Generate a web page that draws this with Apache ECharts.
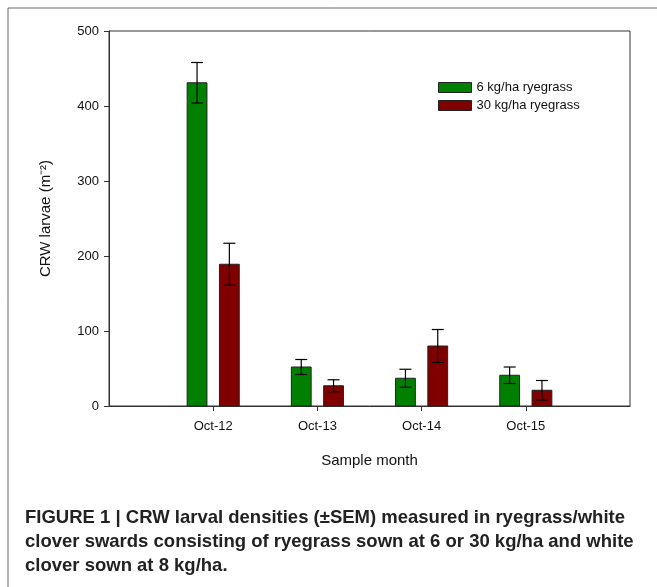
<!DOCTYPE html>
<html><head><meta charset="utf-8">
<script src="https://cdn.jsdelivr.net/npm/echarts@6/dist/echarts.min.js"></script>
<style>html,body{margin:0;padding:0;background:#fff}#chart{width:657px;height:587px}</style>
</head><body><div id="chart"></div>
<script>
// data
var months = ['Oct-12', 'Oct-13', 'Oct-14', 'Oct-15'];
var low = [431, 52, 37, 41];      // 6 kg/ha ryegrass
var lowErr = [27, 10, 12, 11];
var high = [189, 27, 80, 21];     // 30 kg/ha ryegrass
var highErr = [28, 8, 22, 13];
var yTicks = [0, 100, 200, 300, 400, 500];

var mychart = echarts.init(document.getElementById('chart'));

function barSeries(name, vals, errs, offset, color) {
    var data = vals.map(function (v, i) { return [i + 1, v, errs[i]]; });
    return {
        name: name,
        type: 'custom',
        itemStyle: { color: color },
        data: data,
        renderItem: function (params, api) {
            var x = api.value(0) + offset, v = api.value(1), e = api.value(2);
            var p0 = api.coord([x - 0.095, 0]);
            var p1 = api.coord([x + 0.095, v]);
            var c = api.coord([x, v]);
            var top = api.coord([x, v + e]);
            var bot = api.coord([x, v - e]);
            var cap = 6;
            var ls = { stroke: '#000', lineWidth: 1.2 };
            return {
                type: 'group',
                children: [
                    { type: 'rect', shape: { x: p0[0], y: p1[1], width: p1[0] - p0[0], height: p0[1] - p1[1] },
                      style: { fill: color, stroke: '#222', lineWidth: 1 } },
                    { type: 'line', shape: { x1: c[0], y1: top[1], x2: c[0], y2: bot[1] }, style: ls },
                    { type: 'line', shape: { x1: c[0] - cap, y1: top[1], x2: c[0] + cap, y2: top[1] }, style: ls },
                    { type: 'line', shape: { x1: c[0] - cap, y1: bot[1], x2: c[0] + cap, y2: bot[1] }, style: ls }
                ]
            };
        }
    };
}

var option = {
    animation: false,
    grid: { left: 109, right: 27, top: 31, bottom: 181, show: true, borderColor: '#333', borderWidth: 1 },
    legend: {
        orient: 'vertical', left: 433, top: 76, itemWidth: 33, itemHeight: 10, itemGap: 5,
        icon: 'rect',
        textStyle: { fontFamily: 'Liberation Sans, Arial', fontSize: 13, color: '#111' },
        itemStyle: { borderColor: '#222', borderWidth: 1 },
        data: ['6 kg/ha ryegrass', '30 kg/ha ryegrass']
    },
    xAxis: {
        type: 'value', min: 0, max: 5, interval: 1,
        name: 'Sample month', nameLocation: 'middle', nameGap: 47,
        nameTextStyle: { fontFamily: 'Liberation Sans, Arial', fontSize: 15, color: '#111' },
        splitLine: { show: false },
        axisLine: { lineStyle: { color: '#333' } },
        axisTick: { length: 5, lineStyle: { color: '#333' },
            customValues: [1, 2, 3, 4] },
        axisLabel: { margin: 14, fontFamily: 'Liberation Sans, Arial', fontSize: 13, color: '#111',
            customValues: [1, 2, 3, 4],
            formatter: function (v) { return months[v - 1] || ''; } }
    },
    yAxis: {
        type: 'value', min: yTicks[0], max: yTicks[yTicks.length - 1], interval: 100,
        name: 'CRW larvae (m⁻²)', nameLocation: 'middle', nameGap: 56,
        nameTextStyle: { fontFamily: 'Liberation Sans, Arial', fontSize: 15, color: '#111' },
        splitLine: { show: false },
        axisLine: { show: true, lineStyle: { color: '#333' } },
        axisTick: { show: true, length: 5, lineStyle: { color: '#333' } },
        axisLabel: { margin: 10, fontFamily: 'Liberation Sans, Arial', fontSize: 13, color: '#111' }
    },
    graphic: [
        { type: 'line', shape: { x1: 8, y1: 8, x2: 657, y2: 8 }, style: { stroke: '#666', lineWidth: 1 } },
        { type: 'line', shape: { x1: 8, y1: 8, x2: 8, y2: 587 }, style: { stroke: '#666', lineWidth: 1 } },
        { type: 'text', left: 25, top: 506,
          style: { text: 'FIGURE 1 | CRW larval densities (±SEM) measured in ryegrass/white\nclover swards consisting of ryegrass sown at 6 or 30 kg/ha and white\nclover sown at 8 kg/ha.',
            font: 'bold 18.5px "Liberation Sans", Arial', fill: '#222', lineHeight: 24 } }
    ],
    series: [
        barSeries('6 kg/ha ryegrass', low, lowErr, -0.155, '#008000'),
        barSeries('30 kg/ha ryegrass', high, highErr, 0.155, '#800000')
    ]
};
mychart.setOption(option);
</script></body></html>
